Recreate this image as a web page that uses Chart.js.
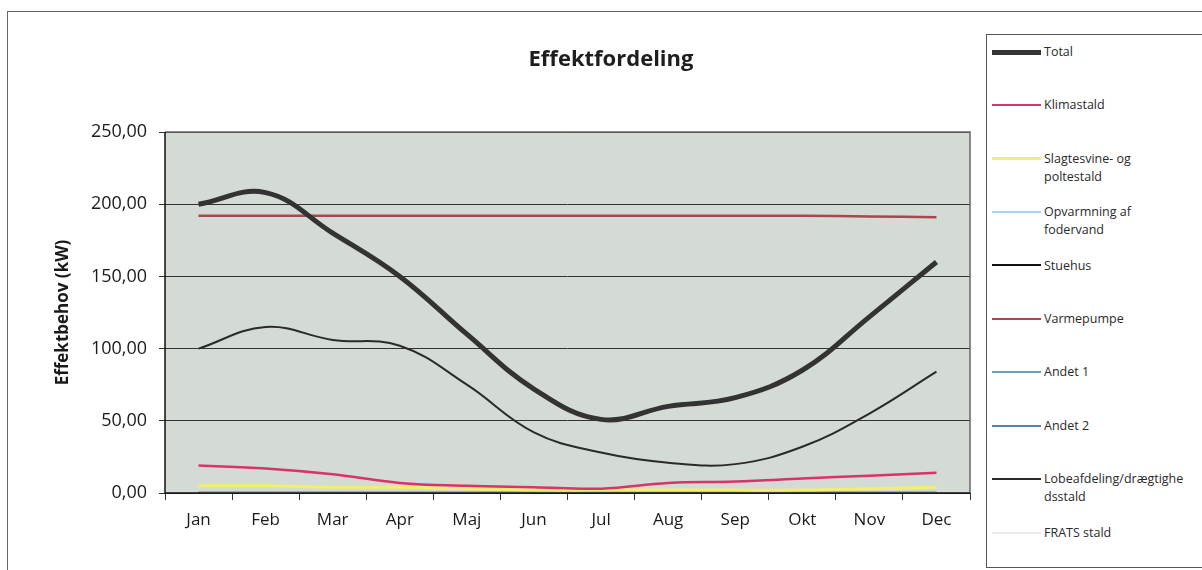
<!DOCTYPE html>
<html>
<head>
<meta charset="utf-8">
<script src="https://cdn.jsdelivr.net/npm/chart.js@4.4.1/dist/chart.umd.min.js"></script>
<style>
  body { margin: 0; background: #fff; font-family: "Open Sans", sans-serif; }
  #frame { position: absolute; left: 7px; top: 11px; width: 1200px; height: 570px;
           border-left: 1.5px solid #666; border-top: 1.5px solid #666; }
  #wrap { position: absolute; left: 0; top: 0; width: 985px; height: 570px; }
  #title { position: absolute; left: 411px; width: 400px; top: 42px; text-align: center;
           font-size: 22px; font-weight: bold; color: #1e1e1e; }
  #legend { position: absolute; left: 986px; top: 34px; width: 240px; height: 532px;
            border: 1.5px solid #555; background: #fff; }
  .item { position: absolute; left: 5px; font-size: 12.5px; line-height: 18px; color: #2a2a2a; }
  .swatch { position: absolute; left: 0; top: 8px; width: 49px; }
  .txt { position: absolute; left: 52px; top: -1px; white-space: nowrap; }
</style>
</head>
<body>
<div id="frame"></div>
<div id="wrap"><canvas id="chart"></canvas></div>
<div id="title">Effektfordeling</div>
<div id="legend"></div>
<script>
const months = ['Jan', 'Feb', 'Mar', 'Apr', 'Maj', 'Jun', 'Jul', 'Aug', 'Sep', 'Okt', 'Nov', 'Dec'];

const total        = [200, 208, 180, 150, 110, 72, 51, 60, 66, 85, 122, 160];
const klimastald   = [19, 17, 13, 7, 5, 4, 3, 7, 8, 10, 12, 14];
const slagtesvine  = [5, 5, 4, 4, 3, 2, 2, 2, 2, 2, 3, 4];
const opvarmning   = [0, 0, 0, 0, 0, 0, 0, 0, 0, 0, 0, 0];
const stuehus      = [0, 0, 0, 0, 0, 0, 0, 0, 0, 0, 0, 0];
const varmepumpe   = [192, 192, 192, 192, 192, 192, 192, 192, 192, 192, 191.5, 191];
const andet1       = [0, 0, 0, 0, 0, 0, 0, 0, 0, 0, 0, 0];
const andet2       = [0, 0, 0, 0, 0, 0, 0, 0, 0, 0, 0, 0];
const lobeafdeling = [100, 115, 106, 102, 75, 42, 28, 21, 20, 32, 55, 84];
const frats        = [0, 0, 0, 0, 0, 0, 0, 0, 0, 0, 0, 0];

const yTicks = [0, 50, 100, 150, 200, 250];

const series = [
  { label: 'Total', data: total, color: '#333333', width: 5 },
  { label: 'Klimastald', data: klimastald, color: '#d8336a', width: 2.5 },
  { label: 'Slagtesvine- og\npoltestald', data: slagtesvine, color: '#f2f06a', width: 3 },
  { label: 'Opvarmning af\nfodervand', data: opvarmning, color: '#a9d6ee', width: 2 },
  { label: 'Stuehus', data: stuehus, color: '#111111', width: 2.5 },
  { label: 'Varmepumpe', data: varmepumpe, color: '#a8474f', width: 2.5 },
  { label: 'Andet 1', data: andet1, color: '#6b9db3', width: 2 },
  { label: 'Andet 2', data: andet2, color: '#5a7db0', width: 2 },
  { label: 'Lobeafdeling/drægtighe\ndsstald', data: lobeafdeling, color: '#2a2a2a', width: 2 },
  { label: 'FRATS stald', data: frats, color: '#ebebeb', width: 2 }
];

const plotBg = {
  id: 'plotBg',
  beforeDraw(chart) {
    const { ctx, chartArea: a } = chart;
    ctx.save();
    ctx.fillStyle = '#d4dad4';
    ctx.fillRect(a.left, a.top, a.right - a.left, a.bottom - a.top);
    ctx.restore();
  },
  afterDatasetsDraw(chart) {
    const { ctx, chartArea: a } = chart;
    ctx.save();
    ctx.strokeStyle = '#666';
    ctx.lineWidth = 1.5;
    ctx.beginPath();
    ctx.moveTo(a.left, a.top);
    ctx.lineTo(a.right, a.top);
    ctx.lineTo(a.right, a.bottom);
    ctx.stroke();
    ctx.strokeStyle = '#111';
    ctx.beginPath();
    ctx.moveTo(a.left, a.top);
    ctx.lineTo(a.left, a.bottom);
    ctx.lineTo(a.right, a.bottom);
    ctx.stroke();
    ctx.restore();
  }
};

const chart = new Chart(document.getElementById('chart'), {
  type: 'line',
  data: {
    labels: months,
    datasets: series.map(s => ({
      label: s.label,
      data: s.data,
      borderColor: s.color,
      backgroundColor: s.color,
      borderWidth: s.width,
      pointRadius: 0,
      tension: 0.4,
      fill: false
    }))
  },
  options: {
    responsive: true,
    maintainAspectRatio: false,
    animation: false,
    layout: { padding: { left: 10, top: 132, right: 15, bottom: 20 } },
    plugins: {
      legend: { display: false },
      tooltip: { enabled: false }
    },
    scales: {
      x: {
        offset: true,
        afterFit: scale => { scale.height = 57; },
        grid: { drawOnChartArea: false, offset: true, tickLength: 7, color: '#333' },
        border: { display: false },
        ticks: { color: '#1a1a1a', padding: 10, font: { family: 'Open Sans', size: 17 } }
      },
      y: {
        min: 0,
        max: 250,
        afterFit: scale => { scale.width = 155; },
        afterBuildTicks: scale => { scale.ticks = yTicks.map(v => ({ value: v })); },
        grid: { color: '#333', lineWidth: 1, tickLength: 6 },
        border: { display: false },
        title: {
          display: true,
          text: 'Effektbehov (kW)',
          color: '#1a1a1a',
          font: { family: 'Open Sans', size: 17, weight: 'bold' },
          padding: { top: 43, bottom: 0 }
        },
        ticks: {
          color: '#1a1a1a',
          padding: 12,
          font: { family: 'Open Sans', size: 18 },
          callback: v => v.toFixed(2).replace('.', ',')
        }
      }
    }
  },
  plugins: [plotBg]
});

const legend = document.getElementById('legend');
chart.data.datasets.forEach((ds, i) => {
  const item = document.createElement('div');
  item.className = 'item';
  item.style.top = (52 - 34 - 9 + i * 53.4) + 'px';
  const sw = document.createElement('div');
  sw.className = 'swatch';
  sw.style.borderTop = ds.borderWidth + 'px solid ' + ds.borderColor;
  sw.style.marginTop = (-ds.borderWidth / 2) + 'px';
  const txt = document.createElement('div');
  txt.className = 'txt';
  txt.innerHTML = ds.label.split('\n').join('<br>');
  item.appendChild(sw);
  item.appendChild(txt);
  legend.appendChild(item);
});
</script>
</body>
</html>
